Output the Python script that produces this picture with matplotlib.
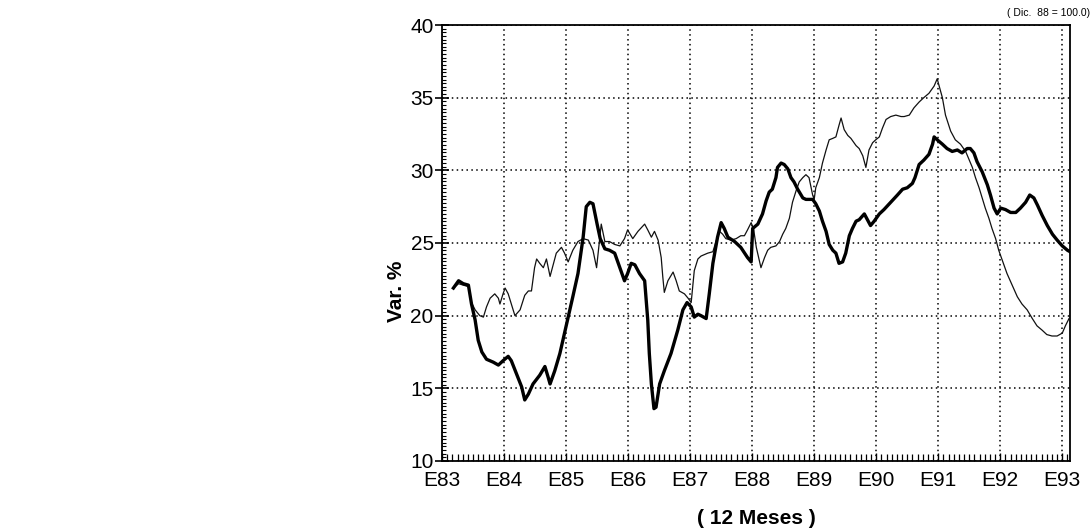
import matplotlib
matplotlib.use("Agg")
import matplotlib.pyplot as plt
from matplotlib.ticker import MultipleLocator, FixedLocator

plt.rcParams['font.family'] = ['Liberation Sans', 'DejaVu Sans']

# months counted from Jan 1983 (E83 = 0), values in %
thick_months = [2.2, 3.2, 4.1, 5.1, 5.7, 6.4, 7.0, 7.7, 8.6, 9.9, 10.9, 11.8, 12.8, 13.4,
                14.4, 15.4, 16.0, 16.7, 17.6, 18.9, 19.9, 20.5, 20.9, 21.8, 22.8, 23.7,
                24.4, 25.3, 26.3, 27.3, 27.9, 28.6, 29.2, 30.0, 30.6, 31.5, 32.4, 33.4,
                34.4, 35.3, 35.9, 36.6, 37.3, 38.2, 39.2, 39.8, 40.1, 40.5, 41.0, 41.4,
                42.1, 43.0, 44.3, 45.6, 46.6, 47.4, 48.2, 48.8, 49.5, 50.1, 51.1, 51.7,
                52.4, 53.3, 54.0, 54.6, 55.3, 56.6, 57.8, 59.1, 59.8, 60.1, 61.1, 62.0,
                62.7, 63.3, 63.9, 64.6, 64.9, 65.6, 66.2, 66.9, 67.5, 68.1, 68.8, 69.8,
                70.4, 71.0, 71.7, 72.3, 73.0, 73.6, 74.3, 74.9, 75.6, 76.2, 76.8, 77.5,
                78.1, 78.8, 79.4, 80.1, 80.7, 81.7, 82.3, 82.9, 83.6, 84.6, 85.5, 86.8,
                88.1, 89.1, 90.0, 91.0, 91.5, 92.3, 93.2, 94.2, 94.9, 95.2, 95.8, 96.8,
                97.7, 98.7, 99.7, 100.6, 101.6, 102.2, 102.9, 103.5, 104.5, 105.5, 106.1,
                106.8, 107.4, 108.1, 109.0, 110.0, 111.0, 111.9, 112.9, 113.7, 114.5,
                115.2, 116.1, 117.1, 118.1, 119.0, 120.0, 121.0, 121.5]
thick_values = [21.9, 22.4, 22.2, 22.1, 20.8, 19.7, 18.3, 17.5, 17.0, 16.8, 16.6, 16.9, 17.2, 16.9,
                16.0, 15.1, 14.2, 14.6, 15.3, 15.9, 16.5, 15.8, 15.3, 16.2, 17.4, 18.8,
                19.9, 21.3, 22.9, 25.4, 27.5, 27.8, 27.7, 26.3, 25.3, 24.6, 24.5, 24.3,
                23.3, 22.4, 22.9, 23.6, 23.5, 22.9, 22.4, 19.7, 17.4, 15.3, 13.6, 13.7,
                15.3, 16.2, 17.4, 19.0, 20.4, 20.9, 20.6, 19.9, 20.1, 20.0, 19.8, 21.5,
                23.6, 25.4, 26.4, 26.0, 25.4, 25.1, 24.7, 24.0, 23.7, 26.0, 26.3, 27.0,
                27.9, 28.5, 28.7, 29.5, 30.2, 30.5, 30.4, 30.1, 29.5, 29.2, 28.7, 28.1,
                28.0, 28.0, 28.0, 27.7, 27.2, 26.5, 25.8, 24.9, 24.5, 24.3, 23.6, 23.7,
                24.3, 25.5, 26.0, 26.5, 26.6, 27.0, 26.6, 26.2, 26.5, 27.0, 27.3, 27.8,
                28.3, 28.7, 28.8, 29.1, 29.5, 30.4, 30.7, 31.1, 31.8, 32.3, 32.1, 31.8,
                31.5, 31.3, 31.4, 31.2, 31.5, 31.5, 31.2, 30.6, 29.9, 29.0, 28.3,
                27.4, 27.0, 27.4, 27.3, 27.1, 27.1, 27.4, 27.8, 28.3, 28.1,
                27.6, 26.9, 26.2, 25.6, 25.2, 24.8, 24.5, 24.4]

thin_months = [2.2, 3.2, 4.1, 5.1, 5.7, 6.4, 7.3, 8.0, 8.6, 9.3, 10.2, 10.9, 11.2, 11.8, 12.2,
               12.8, 13.4, 14.1, 15.1, 16.0, 16.7, 17.3, 17.9, 18.3, 18.9, 19.6, 20.2,
               20.9, 21.5, 22.1, 23.1, 23.7, 24.4, 25.3, 26.3, 27.3, 28.3, 29.2, 29.9,
               30.8, 31.5, 32.4, 33.4, 34.4, 35.3, 35.9, 36.9, 37.9, 39.2, 39.8, 40.5,
               41.1, 41.8, 42.4, 42.7, 43.0, 43.7, 44.7, 45.3, 45.9, 46.9, 47.6, 48.2,
               48.8, 49.5, 50.1, 51.4, 52.4, 53.0, 53.7, 54.3, 54.9, 55.9, 56.9, 57.8,
               58.5, 59.1, 59.8, 60.3, 60.8, 61.7, 62.4, 63.0, 63.6, 64.6, 65.3, 65.9,
               66.5, 67.2, 67.8, 68.5, 69.1, 69.8, 70.4, 71.0, 71.7, 72.0, 72.3, 73.0,
               73.6, 74.3, 74.9, 75.6, 76.2, 76.8, 77.2, 77.8, 78.5, 79.1, 80.1, 80.7,
               81.4, 82.0, 82.6, 83.3, 83.9, 84.6, 85.2, 85.9, 86.8, 87.8, 88.8, 89.4,
               90.4, 91.3, 92.3, 93.2, 94.2, 95.2, 95.8, 96.1, 96.8, 97.4, 98.4, 99.3,
               100.3, 101.3, 101.9, 102.6, 103.2, 103.9, 104.5, 105.1, 105.8, 106.4,
               107.1, 107.7, 108.4, 109.3, 110.3, 111.3, 112.2, 113.2, 114.2, 115.1,
               116.1, 117.0, 118.0, 119.0, 120.0, 120.6, 121.3]
thin_values = [21.9, 22.2, 22.1, 22.0, 20.9, 20.4, 20.0, 19.9, 20.6, 21.2, 21.5, 21.2, 20.8, 21.5, 21.9,
               21.5, 20.8, 20.0, 20.4, 21.4, 21.7, 21.7, 23.3, 23.9, 23.6, 23.3, 23.9,
               22.7, 23.5, 24.3, 24.7, 24.3, 23.7, 24.5, 25.1, 25.3, 25.2, 24.5, 23.3,
               26.3, 25.1, 25.1, 24.9, 24.8, 25.3, 25.9, 25.3, 25.8, 26.3, 25.9, 25.4,
               25.8, 25.2, 24.0, 22.7, 21.6, 22.4, 23.0, 22.4, 21.7, 21.5, 21.2, 20.9,
               23.1, 23.9, 24.1, 24.3, 24.4, 25.1, 25.8, 25.6, 25.3, 25.2, 25.3, 25.5,
               25.5, 25.9, 26.4, 25.9, 24.7, 23.3, 24.0, 24.5, 24.7, 24.8, 25.1, 25.6,
               26.0, 26.7, 27.8, 28.6, 29.2, 29.5, 29.7, 29.5, 28.3, 28.0, 28.8, 29.5,
               30.5, 31.4, 32.1, 32.2, 32.3, 33.1, 33.6, 32.8, 32.4, 32.2, 31.7, 31.5,
               31.0, 30.2, 31.4, 31.9, 32.1, 32.3, 32.9, 33.5, 33.7, 33.8, 33.7, 33.7,
               33.8, 34.3, 34.7, 35.0, 35.3, 35.8, 36.3, 35.9, 35.0, 33.8, 32.7, 32.1,
               31.8, 31.3, 30.8, 30.2, 29.5, 28.8, 28.1, 27.4, 26.7, 26.0,
               25.3, 24.5, 23.8, 22.9, 22.1, 21.3, 20.8, 20.4, 19.8, 19.3,
               19.0, 18.7, 18.6, 18.6, 18.8, 19.3, 19.8]

year_labels = ["E83", "E84", "E85", "E86", "E87", "E88", "E89", "E90", "E91", "E92", "E93"]
year_ticks = [12 * i for i in range(len(year_labels))]

fig = plt.figure(figsize=(10.92, 5.32), dpi=100)
ax = fig.add_axes([0.4048, 0.1335, 0.5751, 0.8195])

ax.plot(thin_months, thin_values, color="#111111", lw=0.9, zorder=3)
ax.plot(thick_months, thick_values, color="#000000", lw=2.4, zorder=4,
        solid_joinstyle="round")

ax.set_xlim(0, 121.5)
ax.set_ylim(10, 40)

ax.xaxis.set_major_locator(FixedLocator(year_ticks))
ax.set_xticklabels(year_labels)
ax.xaxis.set_minor_locator(MultipleLocator(1))
ax.yaxis.set_major_locator(MultipleLocator(5))
ax.yaxis.set_minor_locator(MultipleLocator(0.25))

ax.tick_params(axis="x", which="major", direction="in", length=6, width=1,
               labelsize=15, pad=7)
ax.tick_params(axis="x", which="minor", direction="in", length=5, width=0.9)
ax.tick_params(axis="y", which="major", direction="inout", length=10, width=1.2,
               labelsize=15, pad=1)
ax.tick_params(axis="y", which="minor", direction="in", length=3, width=0.8)

ax.grid(True, which="major", color="black", linestyle=(0, (1, 2.2)), linewidth=1.1)

for side in ["left", "right", "top", "bottom"]:
    ax.spines[side].set_linewidth(1.3)

ax.set_xlabel("( 12 Meses )", fontsize=15, fontweight="bold", labelpad=14)
ax.set_ylabel("Var. %", fontsize=15, fontweight="bold")
ax.yaxis.set_label_coords(-0.058, 0.39)

fig.text(0.998, 0.975, "( Dic.  88 = 100.0)", fontsize=7.5, ha="right", va="center")

fig.savefig("out.png", dpi=100, facecolor="white")
